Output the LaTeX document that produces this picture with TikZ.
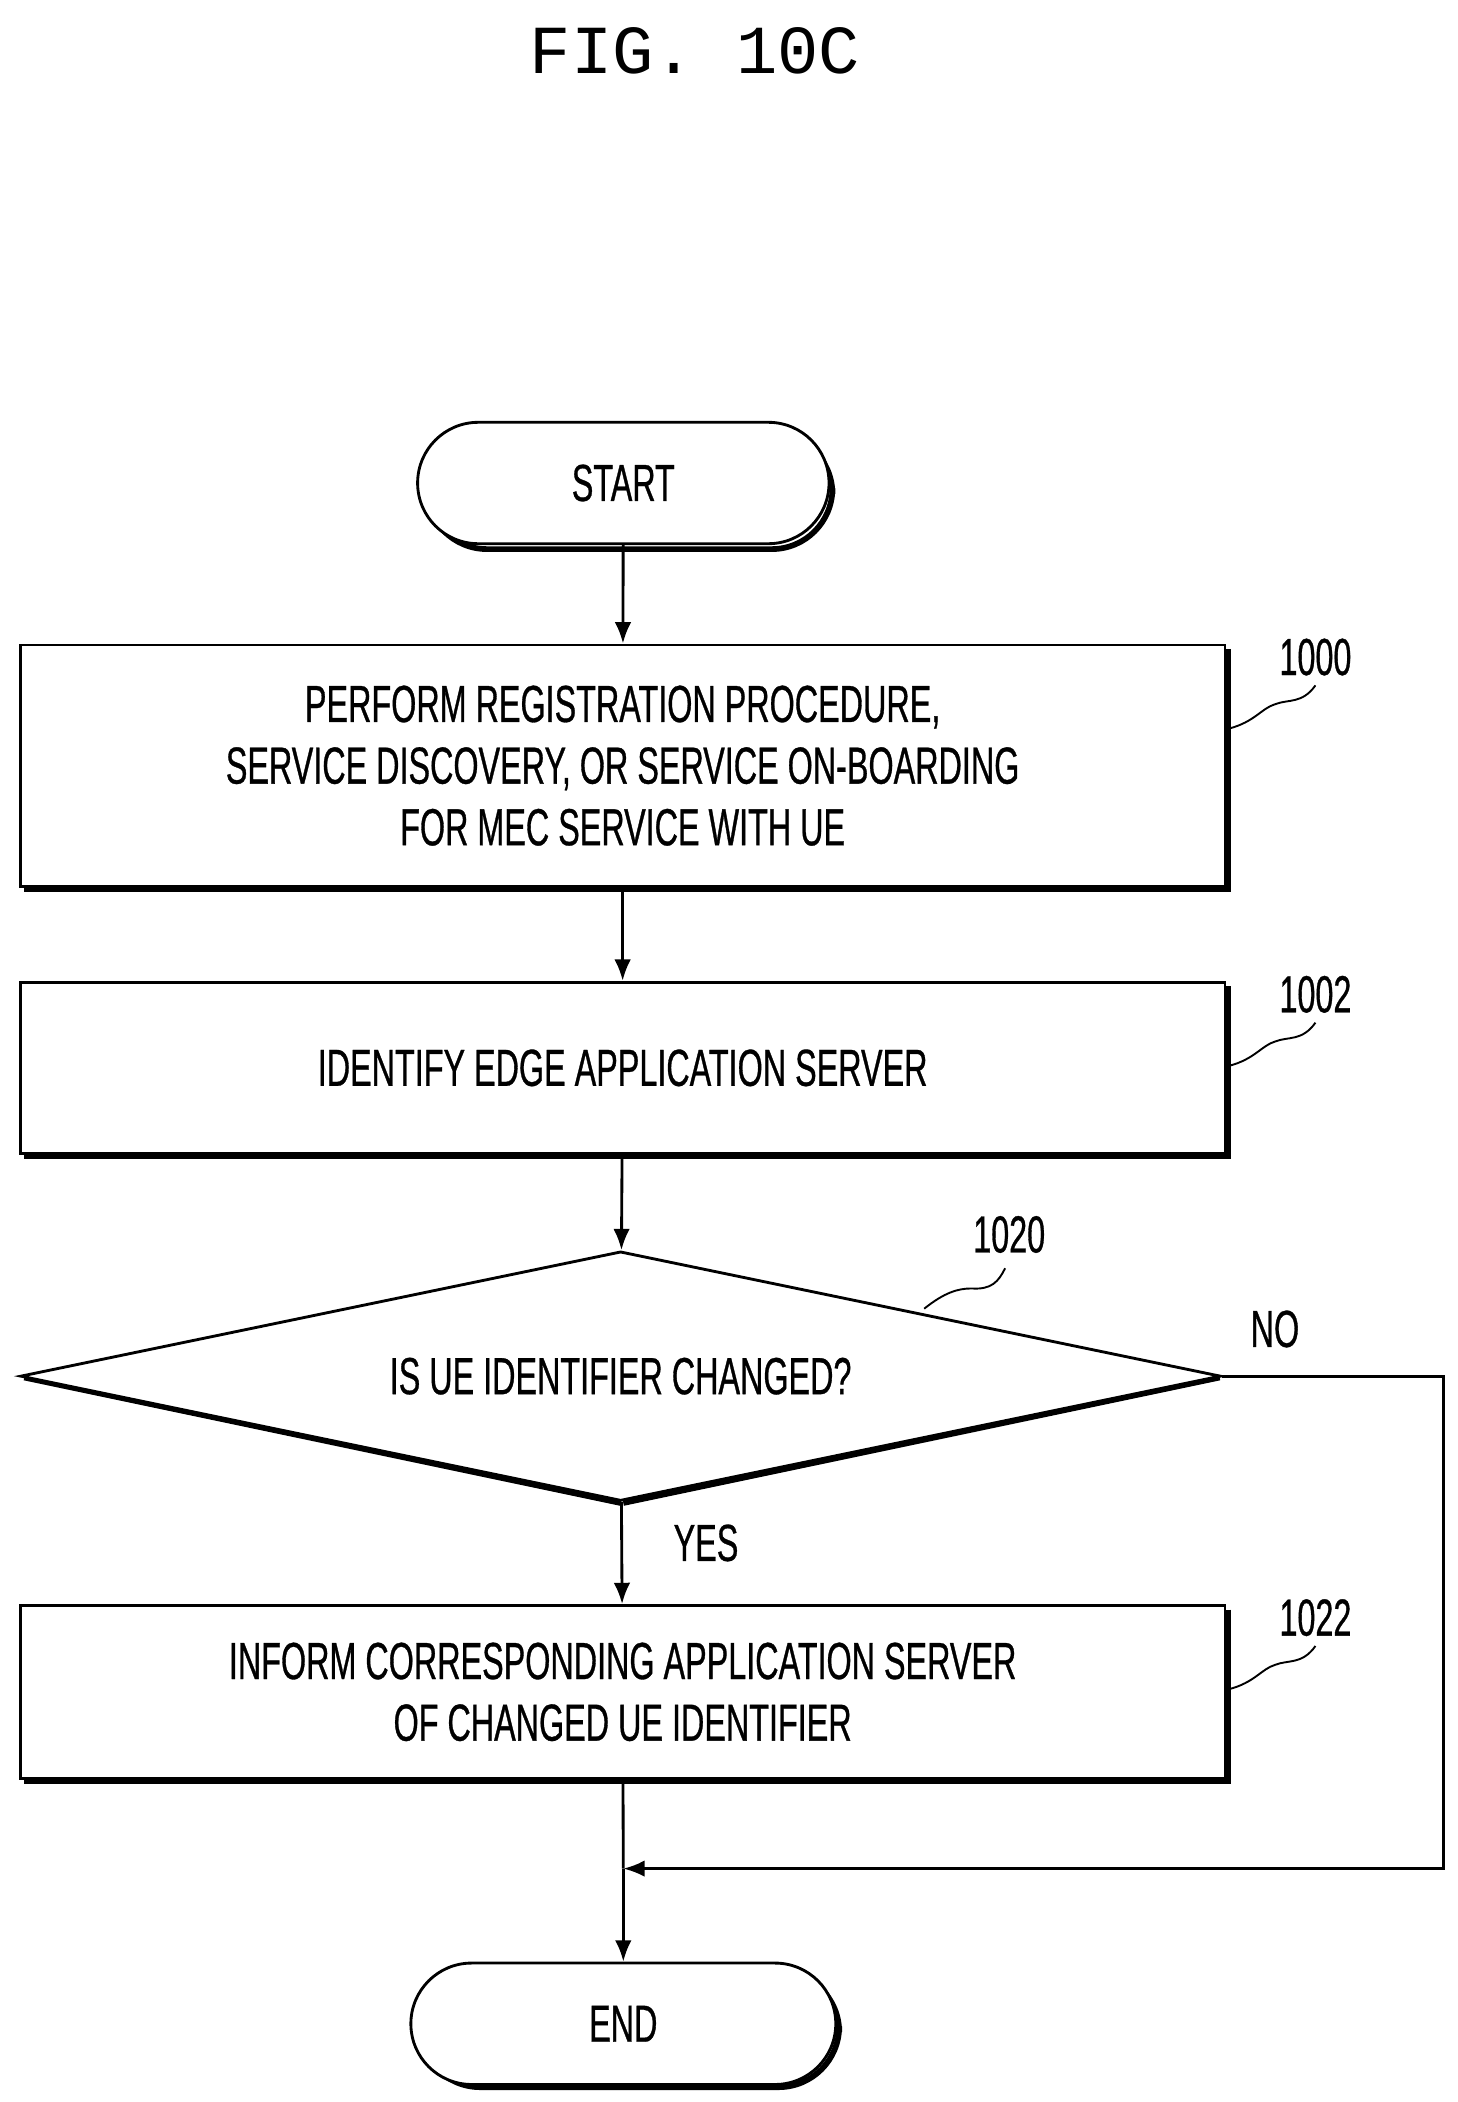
\documentclass[tikz,border=0pt]{standalone}
\usepackage{fontspec}
\setmainfont{Liberation Sans}[FakeStretch=0.62, FakeBold=0.6]
\newfontfamily\figfont{Liberation Mono}
\usetikzlibrary{arrows.meta}
\usetikzlibrary{shapes.geometric}
\usetikzlibrary{positioning}

\begin{document}
\begin{tikzpicture}[x=0.02cm, y=-0.02cm]
\tikzstyle{box}=[draw, line width=1.2pt, minimum width=17.86cm, align=center, font=\fontsize{22}{26}\selectfont]
\tikzstyle{term}=[draw, line width=1.2pt, rounded corners=0.9cm, minimum width=6.1cm, minimum height=1.8cm, font=\fontsize{22}{27}\selectfont]
\tikzstyle{shd}=[line width=2.4pt]
\tikzstyle{arr}=[line width=1.2pt, -{Latex[length=9pt, width=7pt]}]
\tikzstyle{tag}=[font=\fontsize{22}{27}\selectfont]
\useasboundingbox (0,0) rectangle (1080,1558);
\node[font=\figfont\fontsize{29}{34}\selectfont] (fig) at (515,38) {FIG. 10C};
% shadows
\draw[shd, rounded corners=0.9cm] (316,321) rectangle (617,407);
\draw[shd, rounded corners=0.9cm] (311,1461) rectangle (622,1547);
\foreach \t/\b in {478/657, 728/855, 1190/1318}{
\draw[shd] (910,\t+3) -- (910,\b+2) -- (18,\b+2);}
\draw[shd] (462,1114) -- (904,1021);
\draw[shd] (18,1021) -- (460,1114);
\node[term, fill=white] (start) at (462,358) {START};
\node[box, fill=white, minimum height=3.58cm] (s1000) at (461.5,567.5) {PERFORM REGISTRATION PROCEDURE,\\SERVICE DISCOVERY, OR SERVICE ON-BOARDING\\FOR MEC SERVICE WITH UE};
\node[box, fill=white, minimum height=2.54cm] (s1002) at (461.5,791.5) {IDENTIFY EDGE APPLICATION SERVER};
\node[draw, line width=1.2pt, diamond, aspect=4.8, inner sep=0pt, minimum width=17.8cm, minimum height=3.7cm, fill=white, font=\fontsize{22}{27}\selectfont] (d1020) at (460,1020) {IS UE IDENTIFIER CHANGED?};
\node[box, fill=white, minimum height=2.56cm] (s1022) at (461.5,1254) {INFORM CORRESPONDING APPLICATION SERVER\\OF CHANGED UE IDENTIFIER};
\node[term, fill=white, minimum width=6.3cm] (end) at (462,1500) {END};
\coordinate (join) at (462,1385);
\coordinate (nr) at (1070,1020);
\coordinate (nb) at (1070,1385);
\draw[arr] (start) -- (s1000);
\draw[arr] (s1000) -- (s1002);
\draw[arr] (s1002) -- (d1020);
\draw[arr] (d1020) -- node[tag, right=18pt, pos=0.4]{YES} (s1022);
\draw[line width=1.2pt] (s1022) -- (join);
\draw[arr] (join) -- (end);
\draw[arr] (d1020.east) -- (nr) -- (nb) -- (join);
\node[tag] (no) at (945,985) {NO};
% reference numerals
\node[tag] (n1000) at (975,487) {1000};
\node[tag] (n1002) at (975,737) {1002};
\node[tag] (n1022) at (975,1199) {1022};
\node[tag] (n1020) at (748,915) {1020};
\foreach \n/\y in {1000/540, 1002/790, 1022/1252}{
\draw[line width=0.8pt] (911,\y) .. controls (930,\y-5) and (935,\y-15) .. (945,\y-18) .. controls (955,\y-22) and (965,\y-18) .. (975,\y-32);}
\draw[line width=0.8pt] (685,970) .. controls (700,958) and (710,955) .. (720,955) .. controls (735,956) and (740,950) .. (745,940);
\end{tikzpicture}
\end{document}
